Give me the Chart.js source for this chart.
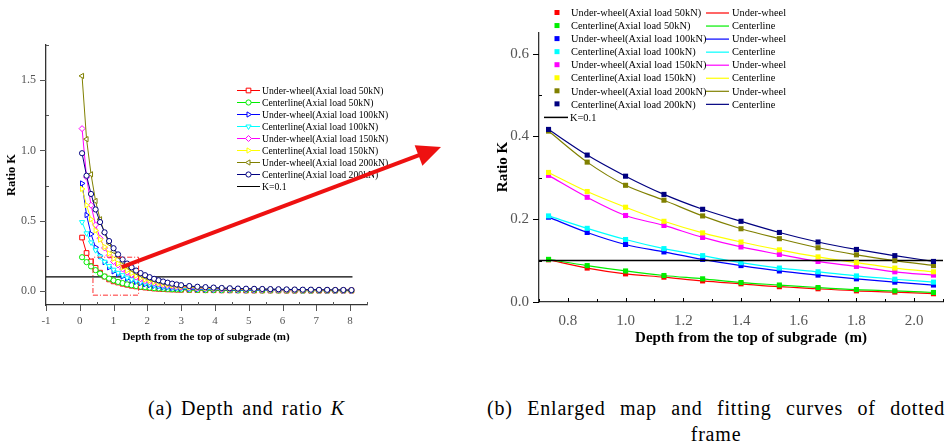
<!DOCTYPE html>
<html>
<head>
<meta charset="utf-8">
<script src="https://cdn.jsdelivr.net/npm/chart.js@4.4.0/dist/chart.umd.min.js"></script>
<style>
  body { margin: 0; background: #fff; width: 952px; height: 445px; position: relative; overflow: hidden; font-family: "Liberation Serif", "Times New Roman", serif; }
  #wrapA { position: absolute; left: 0; top: 0; width: 450px; height: 360px; }
  #wrapB { position: absolute; left: 470px; top: 0; width: 482px; height: 360px; }
  .cap { position: absolute; font-size: 20px; line-height: 22px; letter-spacing: 0.8px; color: #000; white-space: nowrap; }
  .just { text-align: justify; text-align-last: justify; }
</style>
</head>
<body>
<div id="wrapA"><canvas id="chartA" width="450" height="360"></canvas></div>
<div id="wrapB"><canvas id="chartB" width="482" height="360"></canvas></div>
<div class="cap just" style="left:148px; top:397px; width:197px;">(a) Depth and ratio <i>K</i></div>
<div class="cap just" style="left:487px; top:397px; width:458px;">(b) Enlarged map and fitting curves of dotted</div>
<div class="cap" style="left:487px; top:423px; width:458px; text-align:center;">frame</div>
<script>
// depth from the top of subgrade (m)
const depthA = [0.067, 0.2, 0.333, 0.467, 0.6, 0.733, 0.867, 1.0, 1.133, 1.267, 1.4, 1.533, 1.667, 1.8, 1.933, 2.067,
  2.2, 2.333, 2.467, 2.6, 2.733, 2.867, 3.0,
  3.24, 3.48, 3.72, 3.96, 4.2, 4.44, 4.68, 4.92, 5.16, 5.4, 5.64, 5.88, 6.12, 6.36, 6.6, 6.84, 7.08, 7.32, 7.56, 7.8, 8.04];

// ratio K for each load case
const uw50 = [0.38, 0.27, 0.21, 0.165, 0.13, 0.102, 0.082, 0.068, 0.060, 0.051, 0.044, 0.037, 0.032, 0.027, 0.024, 0.020,
  0.017, 0.015, 0.013, 0.011, 0.010, 0.009, 0.008,
  0.007, 0.006, 0.005, 0.005, 0.004, 0.004, 0.004, 0.003, 0.003, 0.003, 0.003, 0.003, 0.002, 0.002, 0.002, 0.002, 0.002, 0.002, 0.002, 0.002, 0.002];
const c50 = [0.24, 0.205, 0.175, 0.148, 0.124, 0.103, 0.088, 0.075, 0.064, 0.056, 0.047, 0.041, 0.035, 0.030, 0.027, 0.023,
  0.020, 0.018, 0.016, 0.014, 0.012, 0.011, 0.010,
  0.008, 0.007, 0.006, 0.006, 0.005, 0.005, 0.004, 0.004, 0.004, 0.003, 0.003, 0.003, 0.003, 0.003, 0.002, 0.002, 0.002, 0.002, 0.002, 0.002, 0.002];
const uw100 = [0.765, 0.54, 0.405, 0.31, 0.25, 0.205, 0.168, 0.139, 0.121, 0.103, 0.088, 0.075, 0.065, 0.056, 0.048, 0.041,
  0.036, 0.031, 0.027, 0.024, 0.021, 0.018, 0.016,
  0.014, 0.012, 0.011, 0.010, 0.009, 0.008, 0.007, 0.007, 0.006, 0.006, 0.005, 0.005, 0.005, 0.004, 0.004, 0.004, 0.004, 0.003, 0.003, 0.003, 0.003];
const c100 = [0.49, 0.41, 0.345, 0.29, 0.245, 0.208, 0.178, 0.151, 0.129, 0.112, 0.095, 0.082, 0.073, 0.063, 0.055, 0.048,
  0.042, 0.037, 0.033, 0.029, 0.025, 0.022, 0.020,
  0.017, 0.015, 0.013, 0.012, 0.011, 0.010, 0.009, 0.008, 0.008, 0.007, 0.007, 0.006, 0.006, 0.005, 0.005, 0.005, 0.004, 0.004, 0.004, 0.004, 0.003];
const uw150 = [1.155, 0.81, 0.61, 0.47, 0.375, 0.306, 0.253, 0.209, 0.185, 0.156, 0.133, 0.115, 0.098, 0.086, 0.073, 0.065,
  0.057, 0.050, 0.044, 0.039, 0.034, 0.030, 0.027,
  0.023, 0.020, 0.018, 0.016, 0.014, 0.013, 0.012, 0.011, 0.010, 0.009, 0.008, 0.008, 0.007, 0.007, 0.006, 0.006, 0.005, 0.005, 0.005, 0.004, 0.004];
const c150 = [0.726, 0.61, 0.51, 0.43, 0.365, 0.313, 0.267, 0.229, 0.195, 0.167, 0.145, 0.126, 0.109, 0.095, 0.082, 0.073,
  0.064, 0.056, 0.050, 0.044, 0.039, 0.034, 0.030,
  0.026, 0.022, 0.020, 0.018, 0.016, 0.014, 0.013, 0.012, 0.011, 0.010, 0.009, 0.009, 0.008, 0.008, 0.007, 0.007, 0.006, 0.006, 0.006, 0.005, 0.005];
const uw200 = [1.53, 1.08, 0.83, 0.64, 0.51, 0.413, 0.338, 0.282, 0.246, 0.208, 0.177, 0.153, 0.131, 0.114, 0.100, 0.088,
  0.077, 0.068, 0.060, 0.053, 0.047, 0.041, 0.037,
  0.031, 0.027, 0.024, 0.021, 0.019, 0.017, 0.015, 0.014, 0.013, 0.012, 0.011, 0.010, 0.009, 0.009, 0.008, 0.008, 0.007, 0.007, 0.006, 0.006, 0.005];
const c200 = [0.98, 0.82, 0.69, 0.58, 0.49, 0.417, 0.355, 0.304, 0.260, 0.224, 0.195, 0.168, 0.145, 0.127, 0.112, 0.098,
  0.086, 0.076, 0.067, 0.059, 0.052, 0.046, 0.041,
  0.035, 0.030, 0.027, 0.024, 0.021, 0.019, 0.017, 0.016, 0.015, 0.014, 0.013, 0.012, 0.011, 0.010, 0.009, 0.009, 0.008, 0.008, 0.007, 0.007, 0.006];

const seriesValues = [uw50, c50, uw100, c100, uw150, c150, uw200, c200];
const seriesLabels = [
  'Under-wheel(Axial load 50kN)', 'Centerline(Axial load 50kN)',
  'Under-wheel(Axial load 100kN)', 'Centerline(Axial load 100kN)',
  'Under-wheel(Axial load 150kN)', 'Centerline(Axial load 150kN)',
  'Under-wheel(Axial load 200kN)', 'Centerline(Axial load 200kN)',
];
const fitLabels = ['Under-wheel', 'Centerline', 'Under-wheel', 'Centerline', 'Under-wheel', 'Centerline', 'Under-wheel', 'Centerline'];

// reference line and the dotted frame
const kValue = 0.1;
const kSpanA = [-1, 8.07];
const kSpanB = [0.7, 2.1];
const frameX = [0.39, 1.74];
const frameY = [-0.03, 0.24];
// the enlarged map shows the points from 0.733 m to 2.067 m
const zoomFrom = 5, zoomTo = 16;

const colors = ['#ff0000', '#00ee00', '#0000ff', '#00ffff', '#ff00ff', '#ffff00', '#808000', '#000080'];
const markers = [
  { style: 'rect', r: 3.3, rot: 0 },
  { style: 'circle', r: 2.6, rot: 0 },
  { style: 'triangle', r: 3, rot: 90 },
  { style: 'triangle', r: 3, rot: 180 },
  { style: 'rectRot', r: 3, rot: 0 },
  { style: 'triangle', r: 3, rot: 90 },
  { style: 'triangle', r: 3, rot: 270 },
  { style: 'circle', r: 2.6, rot: 0 },
];

const SERIF = '"Liberation Serif", "Times New Roman", serif';

function toPoints(xs, ys) {
  return xs.map((x, i) => ({ x, y: ys[i] }));
}

function isMultiple(v, step) {
  return Math.abs(v / step - Math.round(v / step)) < 1e-6;
}

function drawTickMarks(chart, t) {
  const { ctx, chartArea: a } = chart;
  const xs = chart.scales.x, ys = chart.scales.y;
  ctx.save();
  ctx.strokeStyle = t.color;
  ctx.lineWidth = 1;
  ctx.beginPath();
  for (let i = Math.ceil(xs.min / t.xMinor - 1e-6); i * t.xMinor <= xs.max + 1e-6; i++) {
    const v = i * t.xMinor;
    const px = Math.round(xs.getPixelForValue(v)) + 0.5;
    ctx.moveTo(px, a.bottom);
    ctx.lineTo(px, a.bottom + (isMultiple(v, t.xMajor) ? t.xMajorLen : t.xMinorLen));
  }
  for (let i = Math.ceil(ys.min / t.yMinor - 1e-6); i * t.yMinor <= ys.max + 1e-6; i++) {
    const v = i * t.yMinor;
    const py = Math.round(ys.getPixelForValue(v)) + 0.5;
    ctx.moveTo(a.left, py);
    ctx.lineTo(a.left - (isMultiple(v, t.yMajor) ? t.yMajorLen : t.yMinorLen), py);
  }
  ctx.stroke();
  ctx.restore();
}

function drawMarker(ctx, i, x, y) {
  const m = markers[i];
  ctx.save();
  ctx.strokeStyle = colors[i];
  ctx.fillStyle = '#fff';
  ctx.lineWidth = 1;
  Chart.helpers.drawPoint(ctx, { pointStyle: m.style, radius: m.r, rotation: m.rot, borderWidth: 1 }, x, y);
  ctx.restore();
}

function drawTitles(ctx, t) {
  ctx.save();
  ctx.fillStyle = '#000';
  ctx.textAlign = 'center';
  ctx.textBaseline = 'middle';
  ctx.font = 'bold ' + t.xSize + 'px ' + SERIF;
  ctx.fillText(t.xText, t.xPos[0], t.xPos[1]);
  ctx.translate(t.yPos[0], t.yPos[1]);
  ctx.rotate(-Math.PI / 2);
  ctx.font = 'bold ' + t.ySize + 'px ' + SERIF;
  ctx.fillText('Ratio K', 0, 0);
  ctx.restore();
}

const figAPlugin = {
  id: 'figA',
  afterDraw(chart) {
    const ctx = chart.ctx;
    drawTickMarks(chart, { color: '#555', xMinor: 0.5, xMajor: 1, xMajorLen: 6, xMinorLen: -3, yMinor: 0.25, yMajor: 0.5, yMajorLen: 6, yMinorLen: -3 });
    drawTitles(ctx, { xText: 'Depth from the top of subgrade (m)', xSize: 11, xPos: [206, 337], ySize: 12.5, yPos: [12, 175] });

    // legend
    ctx.save();
    ctx.font = '9.7px ' + SERIF;
    ctx.textBaseline = 'middle';
    ctx.textAlign = 'left';
    for (let i = 0; i < 9; i++) {
      const y = 90 + 12 * i;
      ctx.strokeStyle = i < 8 ? colors[i] : '#000';
      ctx.lineWidth = 1;
      ctx.beginPath();
      ctx.moveTo(237, y + 0.5);
      ctx.lineTo(260, y + 0.5);
      ctx.stroke();
      if (i < 8) drawMarker(ctx, i, 248.5, y + 0.5);
      ctx.fillStyle = '#000';
      ctx.fillText(i < 8 ? seriesLabels[i] : 'K=0.1', 262, y + 1);
    }
    ctx.restore();

    // arrow from the dotted frame towards the enlarged map
    const xs = chart.scales.x, ys = chart.scales.y;
    const sx = xs.getPixelForValue(1.24), sy = ys.getPixelForValue(0.17);
    const tx = 441, ty = 147;
    const dx = tx - sx, dy = ty - sy, len = Math.hypot(dx, dy);
    const ux = dx / len, uy = dy / len;
    const bx = tx - ux * 24, by = ty - uy * 24;
    ctx.save();
    ctx.strokeStyle = '#ee1111';
    ctx.fillStyle = '#ee1111';
    ctx.lineWidth = 4;
    ctx.beginPath();
    ctx.moveTo(sx, sy);
    ctx.lineTo(bx + ux * 2, by + uy * 2);
    ctx.stroke();
    ctx.beginPath();
    ctx.moveTo(tx, ty);
    ctx.lineTo(bx - uy * 11, by + ux * 11);
    ctx.lineTo(bx + uy * 11, by - ux * 11);
    ctx.closePath();
    ctx.fill();
    ctx.restore();
  },
};

const figBPlugin = {
  id: 'figB',
  afterDraw(chart) {
    const ctx = chart.ctx;
    drawTickMarks(chart, { color: '#000', xMinor: 0.1, xMajor: 0.2, xMajorLen: -4, xMinorLen: -3, yMinor: 0.1, yMajor: 0.2, yMajorLen: 6, yMinorLen: -3 });
    drawTitles(ctx, { xText: 'Depth from the top of subgrade  (m)', xSize: 15, xPos: [281, 338], ySize: 15, yPos: [33, 167] });

    ctx.save();
    ctx.font = '10.4px ' + SERIF;
    ctx.textBaseline = 'middle';
    ctx.textAlign = 'left';
    for (let i = 0; i < 8; i++) {
      const y = 12.5 + 13.05 * i;
      ctx.fillStyle = colors[i];
      ctx.fillRect(84.5, y - 2.5, 5, 5);
      ctx.fillStyle = '#000';
      ctx.fillText(seriesLabels[i], 101, y + 1);
      ctx.strokeStyle = colors[i];
      ctx.lineWidth = 1.2;
      ctx.beginPath();
      ctx.moveTo(236, y + 0.5);
      ctx.lineTo(259, y + 0.5);
      ctx.stroke();
      ctx.fillText(fitLabels[i], 262, y + 1);
    }
    const yk = 12.5 + 13.05 * 8;
    ctx.strokeStyle = '#000';
    ctx.lineWidth = 1.5;
    ctx.beginPath();
    ctx.moveTo(74, yk + 0.5);
    ctx.lineTo(98, yk + 0.5);
    ctx.stroke();
    ctx.fillText('K=0.1', 100, yk + 1);
    ctx.restore();
  },
};

// ticks every minor step, labels only on the major steps
function axisOptions(min, max, minor, major, digits, fontSize, side) {
  return {
    type: 'linear',
    min, max,
    afterFit: side,
    grid: { display: false, drawTicks: false },
    border: { display: true, color: '#333', width: 1.3 },
    ticks: {
      stepSize: minor,
      includeBounds: false,
      autoSkip: false,
      maxRotation: 0,
      padding: 10,
      color: '#555',
      font: { family: SERIF, size: fontSize },
      callback: (v) => {
        if (!isMultiple(v, major)) return null;
        return digits === 0 ? String(Math.round(v)) : Number(v).toFixed(digits);
      },
    },
  };
}

// (a) depth and ratio K
const datasetsA = seriesValues.map((vals, i) => ({
  data: toPoints(depthA, vals),
  showLine: true,
  borderColor: colors[i],
  borderWidth: 1,
  pointStyle: markers[i].style,
  pointRadius: markers[i].r,
  pointRotation: markers[i].rot,
  pointBorderColor: colors[i],
  pointBackgroundColor: '#fff',
  pointBorderWidth: 1,
  order: 10 - i,
}));
datasetsA.push({
  data: [{ x: kSpanA[0], y: kValue }, { x: kSpanA[1], y: kValue }],
  showLine: true, borderColor: '#000', borderWidth: 1.2, pointRadius: 0, order: 20,
});
datasetsA.push({
  data: [
    { x: frameX[0], y: frameY[0] }, { x: frameX[1], y: frameY[0] },
    { x: frameX[1], y: frameY[1] }, { x: frameX[0], y: frameY[1] }, { x: frameX[0], y: frameY[0] },
  ],
  showLine: true, borderColor: '#ff3030', borderWidth: 1, borderDash: [5, 2, 1, 2], pointRadius: 0, order: 0,
});

new Chart(document.getElementById('chartA'), {
  type: 'scatter',
  data: { datasets: datasetsA },
  options: {
    responsive: false,
    animation: false,
    events: [],
    layout: { padding: { left: 0, right: 83, top: 45, bottom: 0 } },
    plugins: { legend: { display: false }, tooltip: { enabled: false } },
    scales: {
      x: axisOptions(-1, 8.5, 0.5, 1, 0, 11, (s) => { s.height = 55; }),
      y: axisOptions(-0.1, 1.75, 0.25, 0.5, 1, 12, (s) => { s.width = 46; }),
    },
  },
  plugins: [figAPlugin],
});

// (b) enlarged map with fitting curves
const depthB = depthA.slice(zoomFrom, zoomTo);
const datasetsB = [];
seriesValues.forEach((vals, i) => {
  const pts = toPoints(depthB, vals.slice(zoomFrom, zoomTo));
  datasetsB.push({
    data: pts,
    showLine: false,
    pointStyle: 'rect',
    pointRadius: 3.6,
    pointBackgroundColor: colors[i],
    pointBorderWidth: 0,
    order: 10 - i,
  });
  datasetsB.push({
    data: pts,
    showLine: true,
    borderColor: colors[i],
    borderWidth: 1.2,
    tension: 0.4,
    cubicInterpolationMode: 'monotone',
    pointRadius: 0,
    order: 30 - i,
  });
});
datasetsB.push({
  data: [{ x: kSpanB[0], y: kValue }, { x: kSpanB[1], y: kValue }],
  showLine: true, borderColor: '#000', borderWidth: 1.5, pointRadius: 0, order: 5,
});

new Chart(document.getElementById('chartB'), {
  type: 'scatter',
  data: { datasets: datasetsB },
  options: {
    responsive: false,
    animation: false,
    events: [],
    layout: { padding: { left: 0, right: 9, top: 33, bottom: 0 } },
    plugins: { legend: { display: false }, tooltip: { enabled: false } },
    scales: {
      x: axisOptions(0.7, 2.1, 0.1, 0.2, 1, 15, (s) => { s.height = 58; }),
      y: axisOptions(0, 0.65, 0.1, 0.2, 1, 15, (s) => { s.width = 69; }),
    },
  },
  plugins: [figBPlugin],
});
</script>
</body>
</html>
